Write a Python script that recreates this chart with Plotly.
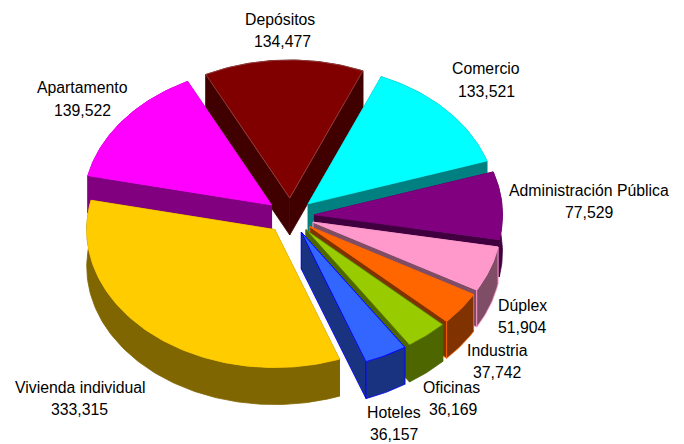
import math
import plotly.graph_objects as go

categories = ["Depósitos", "Comercio", "Administración Pública", "Dúplex", "Industria",
              "Oficinas", "Hoteles", "Vivienda individual", "Apartamento"]
values = [134477, 133521, 77529, 51904, 37742, 36169, 36157, 333315, 139522]
top_colors = ["#800000", "#00FFFF", "#800080", "#FF99CC", "#FF6600",
              "#99CC00", "#3366FF", "#FFCC00", "#FF00FF"]
side_colors = ["#400000", "#008080", "#400040", "#804D66", "#803300",
               "#4D6600", "#1A3380", "#806600", "#800080"]
edge_colors = ["#A04848", "#00FFFF", "#800080", "#FF99CC", "#FF6600",
               "#5A7800", "#0000FF", "#FFCC00", "#FF00FF"]
draw_order = [0, 1, 2, 3, 4, 5, 6, 8, 7]

label_x = [280, 486, 589, 522, 497, 451, 394, 80, 82]
label_y1 = [19, 68, 190, 305, 350, 387, 412, 387, 87]
label_x2 = [282, 486, 589, 522, 497, 453, 394, 79, 82]
label_y2 = [41, 91, 212, 327, 372, 409, 434, 409, 110]

CX, CY = 290.5, 216    # pie centre in the plot's axis units
RX, RY = 188, 138      # ellipse radii
EX, EY = 24, 18        # explosion distance
DEPTH = 37             # extrusion
START = -26.5          # start angle, degrees clockwise from 12 o'clock

total = sum(values)
starts = []
acc = START
for v in values:
    starts.append(acc)
    acc += v / total * 360


def pt(ox, oy, deg):
    a = math.radians(deg)
    return ox + RX * math.sin(a), oy - RY * math.cos(a)


def poly(fig, xs, ys, fill, line, width=0.8):
    fig.add_trace(go.Scatter(x=xs + xs[:1], y=ys + ys[:1], mode="lines", fill="toself",
                             fillcolor=fill, line=dict(color=line, width=width),
                             hoverinfo="skip", showlegend=False))


fig = go.Figure()
for i in draw_order:
    a0 = starts[i]
    a1 = a0 + values[i] / total * 360
    mid = math.radians((a0 + a1) / 2)
    ox = CX + EX * math.sin(mid)
    oy = CY - EY * math.cos(mid)
    n = max(2, int(a1 - a0))
    arc = [pt(ox, oy, a0 + (a1 - a0) * k / n) for k in range(n + 1)]
    ax = [p[0] for p in arc]
    ay = [p[1] for p in arc]
    side_edge = edge_colors[i] if i in (3, 4, 6) else side_colors[i]
    # radial walls
    for (px, py) in (arc[0], arc[-1]):
        poly(fig, [ox, px, px, ox], [oy, py, py + DEPTH, oy + DEPTH], side_colors[i], side_edge)
    # outer wall
    poly(fig, ax + ax[::-1], ay + [y + DEPTH for y in ay[::-1]], side_colors[i], side_edge)
    # top
    poly(fig, [ox] + ax, [oy] + ay, top_colors[i], edge_colors[i])

annotations = []
font = dict(family="Liberation Sans, Arial, sans-serif", size=15.8, color="black")
for i, c in enumerate(categories):
    annotations.append(dict(x=label_x[i], y=label_y1[i], text=c, showarrow=False, font=font,
                            xanchor="center", yanchor="middle"))
    annotations.append(dict(x=label_x2[i], y=label_y2[i], text=f"{values[i]:,}", showarrow=False,
                            font=font, xanchor="center", yanchor="middle"))

fig.update_layout(width=684, height=444, margin=dict(l=0, r=0, t=0, b=0),
                  paper_bgcolor="white", plot_bgcolor="white", annotations=annotations,
                  xaxis=dict(range=[0, 684], visible=False, fixedrange=True),
                  yaxis=dict(range=[444, 0], visible=False, fixedrange=True))
fig.write_html("out.html", config=dict(displayModeBar=False),
               post_script="document.body.style.margin='0';document.body.style.overflow='hidden';")
